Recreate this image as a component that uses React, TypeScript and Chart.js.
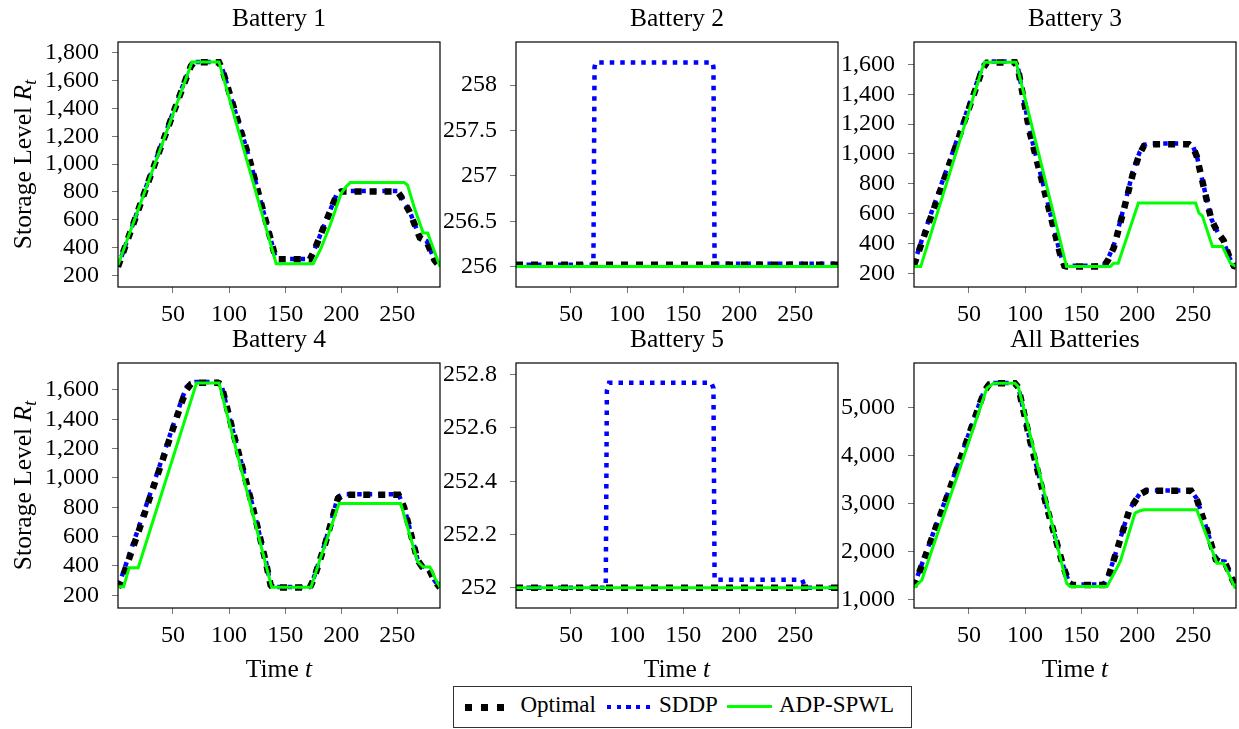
import React, { useEffect, useRef } from 'react';
import { Chart, registerables } from 'chart.js';

Chart.register(...registerables);

type Pt = [number, number];

// Time axis (5-minute steps over one day)
const timeMin = 1;
const timeMax = 288;
const timeTicks = [50, 100, 150, 200, 250];

// Battery 1 storage trajectories
const battery1Optimal: Pt[] = [
  [1, 262], [20, 690], [40, 1140], [60, 1580], [66, 1705], [69, 1732], [91, 1732], [94, 1680],
  [118, 1040], [141, 340], [144, 315], [172, 315], [176, 380], [186, 580], [196, 780], [200, 803],
  [250, 803], [253, 770], [261, 655], [270, 470], [276, 445], [283, 310], [288, 262],
];
const battery1Sddp: Pt[] = [
  [1, 262], [20, 700], [40, 1150], [60, 1590], [66, 1712], [69, 1735], [91, 1735], [94, 1685],
  [118, 1045], [141, 340], [144, 318], [172, 318], [176, 385], [186, 585], [196, 785], [200, 806],
  [250, 806], [253, 772], [261, 660], [270, 472], [276, 448], [283, 312], [288, 262],
];
const battery1Adp: Pt[] = [
  [1, 274], [67, 1735], [91, 1735], [142, 284], [175, 284], [182, 395], [190, 560], [200, 790],
  [204, 835], [208, 867], [256, 867], [259, 850], [265, 690], [273, 505], [277, 505], [288, 262],
];
const battery1Ticks = [200, 400, 600, 800, 1000, 1200, 1400, 1600, 1800];

// Battery 2 storage trajectories
const battery2Optimal: Pt[] = [[1, 256.02], [288, 256.02]];
const battery2Sddp: Pt[] = [
  [1, 256.02], [70, 256.02], [71, 258.2], [72, 258.25], [176, 258.25], [177, 258.2], [178, 256.03], [288, 256.03],
];
const battery2Adp: Pt[] = [[1, 256.0], [288, 256.0]];
const battery2Ticks = [256, 256.5, 257, 257.5, 258];

// Battery 3 storage trajectories
const battery3Optimal: Pt[] = [
  [1, 255], [10, 450], [20, 660], [40, 1090], [58, 1480], [62, 1570], [66, 1612], [91, 1615],
  [94, 1560], [104, 1150], [119, 700], [131, 335], [135, 250], [137, 245], [170, 245], [174, 290],
  [179, 370], [188, 626], [196, 865], [202, 1000], [206, 1055], [210, 1066], [246, 1066], [250, 1040],
  [253, 985], [259, 785], [266, 560], [272, 470], [277, 420], [282, 310], [286, 250], [288, 245],
];
const battery3Sddp: Pt[] = [
  [1, 262], [10, 470], [20, 680], [40, 1110], [58, 1500], [62, 1590], [66, 1620], [91, 1620],
  [94, 1565], [104, 1160], [119, 710], [131, 340], [135, 255], [137, 250], [170, 250], [174, 300],
  [179, 385], [188, 640], [196, 880], [202, 1010], [206, 1060], [210, 1070], [246, 1070], [250, 1045],
  [253, 990], [259, 790], [266, 565], [272, 470], [277, 415], [282, 305], [286, 250], [288, 245],
];
const battery3Adp: Pt[] = [
  [1, 245], [7, 245], [61, 1555], [64, 1615], [92, 1615], [137, 245], [176, 245], [179, 267],
  [183, 267], [201, 671], [252, 671], [255, 603], [258, 585], [267, 379], [276, 379], [283, 267], [288, 245],
];
const battery3Ticks = [200, 400, 600, 800, 1000, 1200, 1400, 1600];

// Battery 4 storage trajectories
const battery4Optimal: Pt[] = [
  [1, 252], [4, 300], [10, 430], [20, 650], [30, 880], [40, 1105], [50, 1335], [58, 1520],
  [62, 1600], [66, 1640], [70, 1650], [90, 1650], [93, 1640], [103, 1330], [121, 805], [133, 418],
  [137, 270], [139, 252], [172, 252], [176, 320], [186, 560], [197, 860], [201, 885], [251, 885],
  [256, 800], [262, 620], [268, 440], [272, 395], [278, 380], [283, 300], [288, 252],
];
const battery4Sddp: Pt[] = [
  [1, 262], [4, 320], [10, 455], [20, 675], [30, 900], [40, 1125], [50, 1355], [58, 1540],
  [62, 1620], [66, 1650], [70, 1655], [90, 1655], [93, 1640], [103, 1335], [121, 810], [133, 425],
  [137, 275], [139, 256], [172, 256], [176, 330], [186, 570], [197, 870], [201, 888], [251, 888],
  [256, 805], [262, 625], [268, 445], [272, 398], [278, 382], [283, 302], [288, 252],
];
const battery4Adp: Pt[] = [
  [1, 258], [6, 258], [11, 388], [19, 388], [71, 1648], [91, 1648], [138, 255], [173, 255],
  [180, 420], [198, 825], [253, 825], [260, 640], [268, 430], [273, 392], [279, 392], [284, 310], [288, 255],
];
const battery4Ticks = [200, 400, 600, 800, 1000, 1200, 1400, 1600];

// Battery 5 storage trajectories
const battery5Optimal: Pt[] = [[1, 252.0], [288, 252.0]];
const battery5Sddp: Pt[] = [
  [1, 252.0], [81, 252.0], [82, 252.74], [84, 252.77], [175, 252.77], [177, 252.75], [178, 252.03],
  [256, 252.03], [259, 252.0], [288, 252.0],
];
const battery5Adp: Pt[] = [[1, 252.0], [288, 252.0]];
const battery5Ticks = [252, 252.2, 252.4, 252.6, 252.8];

// Sum over all batteries
const allOptimal: Pt[] = [
  [1, 1265], [10, 1830], [30, 3110], [50, 4430], [60, 5100], [64, 5350], [68, 5480], [72, 5505],
  [91, 5505], [94, 5420], [104, 4350], [119, 2950], [134, 1690], [139, 1350], [142, 1300], [170, 1300],
  [174, 1450], [181, 1960], [193, 2865], [202, 3180], [208, 3260], [248, 3260], [253, 3090], [262, 2450],
  [270, 1830], [273, 1790], [278, 1780], [283, 1500], [288, 1265],
];
const allSddp: Pt[] = [
  [1, 1280], [10, 1860], [30, 3140], [50, 4460], [60, 5130], [64, 5370], [68, 5495], [72, 5510],
  [91, 5510], [94, 5425], [104, 4360], [119, 2960], [134, 1700], [139, 1360], [142, 1310], [170, 1310],
  [174, 1465], [181, 1980], [193, 2880], [202, 3195], [208, 3270], [248, 3270], [253, 3100], [262, 2460],
  [270, 1835], [273, 1795], [278, 1785], [283, 1505], [288, 1265],
];
const allAdp: Pt[] = [
  [1, 1245], [8, 1400], [18, 2100], [40, 3600], [66, 5405], [72, 5505], [91, 5505], [94, 5430],
  [137, 1336], [140, 1265], [173, 1265], [181, 1613], [185, 1800], [198, 2796], [202, 2840], [206, 2865],
  [253, 2865], [262, 2308], [271, 1753], [277, 1753], [287, 1245], [288, 1245],
];
const allTicks = [1000, 2000, 3000, 4000, 5000];

const SERIF = '"Liberation Serif", "Times New Roman", serif';

type Run = { text: string; font: string; dy?: number };

function drawRuns(ctx: CanvasRenderingContext2D, runs: Run[], x: number, y: number, angle: number) {
  ctx.save();
  ctx.translate(x, y);
  ctx.rotate(angle);
  ctx.textAlign = 'left';
  ctx.textBaseline = 'alphabetic';
  let total = 0;
  for (const r of runs) {
    ctx.font = r.font;
    total += ctx.measureText(r.text).width;
  }
  let cx = -total / 2;
  for (const r of runs) {
    ctx.font = r.font;
    ctx.fillText(r.text, cx, r.dy || 0);
    cx += ctx.measureText(r.text).width;
  }
  ctx.restore();
}

// Draws the axis box, the panel caption and the axis captions
const panelFrame = {
  id: 'panelFrame',
  afterDatasetsDraw(chart: any, _args: any, opts: any) {
    const { ctx, chartArea: a } = chart;
    ctx.save();
    ctx.strokeStyle = '#000';
    ctx.lineWidth = 1.2;
    ctx.strokeRect(a.left, a.top, a.right - a.left, a.bottom - a.top);
    ctx.fillStyle = '#000';
    ctx.font = `25.5px ${SERIF}`;
    ctx.textAlign = 'center';
    ctx.textBaseline = 'alphabetic';
    const mid = (a.left + a.right) / 2;
    ctx.fillText(opts.title, mid, a.top - 16.5);
    if (opts.xLabel) {
      drawRuns(ctx, [
        { text: 'Time ', font: `25.5px ${SERIF}` },
        { text: 't', font: `italic 25.5px ${SERIF}` },
      ], mid, a.bottom + 68.5, 0);
    }
    if (opts.yLabel) {
      drawRuns(ctx, [
        { text: 'Storage Level ', font: `25.5px ${SERIF}` },
        { text: 'R', font: `italic 25.5px ${SERIF}` },
        { text: 't', font: `italic 18px ${SERIF}`, dy: 5 },
      ], a.left - 87, (a.top + a.bottom) / 2, -Math.PI / 2);
    }
    ctx.restore();
  },
};

type PanelSpec = {
  title: string;
  left: number;
  top: number;
  optimal: Pt[];
  sddp: Pt[];
  adp: Pt[];
  yMin: number;
  yMax: number;
  yTicks: number[];
  xLabel: boolean;
  yLabel: boolean;
};

const PLOT_W = 322;
const PLOT_H = 245;
const AXIS_W = 110;
const AXIS_H = 75;
const TOP_PAD = 42;
const RIGHT_PAD = 3;
const CANVAS_W = AXIS_W + PLOT_W + RIGHT_PAD;
const CANVAS_H = TOP_PAD + PLOT_H + AXIS_H;

const toXY = (pts: Pt[]) => pts.map(([x, y]) => ({ x, y }));

const tickFont = { family: SERIF, size: 24 };

function Panel({ spec }: { spec: PanelSpec }) {
  const ref = useRef<HTMLCanvasElement | null>(null);
  useEffect(() => {
    if (!ref.current) return;
    const chart = new Chart(ref.current, {
      type: 'line',
      data: {
        datasets: [
          {
            label: 'Optimal',
            data: toXY(spec.optimal),
            borderColor: '#000000',
            borderWidth: 6.5,
            borderDash: [7, 8],
            borderCapStyle: 'butt',
            pointRadius: 0,
            tension: 0,
            order: 2,
            clip: 0,
          },
          {
            label: 'SDDP',
            data: toXY(spec.sddp),
            borderColor: '#0000ff',
            borderWidth: 4.5,
            borderDash: [4.5, 6],
            borderCapStyle: 'butt',
            pointRadius: 0,
            tension: 0,
            order: 3,
            clip: 0,
          },
          {
            label: 'ADP-SPWL',
            data: toXY(spec.adp),
            borderColor: '#00ff00',
            borderWidth: 3,
            pointRadius: 0,
            tension: 0,
            order: 1,
            clip: 0,
          },
        ],
      } as any,
      options: {
        animation: false,
        responsive: false,
        events: [],
        layout: { padding: { left: 0, top: TOP_PAD, right: RIGHT_PAD, bottom: 0 } },
        plugins: {
          legend: { display: false },
          tooltip: { enabled: false },
          panelFrame: { title: spec.title, xLabel: spec.xLabel, yLabel: spec.yLabel },
        } as any,
        scales: {
          x: {
            type: 'linear',
            min: timeMin,
            max: timeMax,
            afterBuildTicks: (s: any) => {
              s.ticks = timeTicks.map((v) => ({ value: v }));
            },
            afterFit: (s: any) => {
              s.height = AXIS_H;
            },
            grid: { display: true, drawOnChartArea: false, drawTicks: true, tickLength: 6, color: '#777', lineWidth: 1 },
            border: { display: false },
            ticks: {
              font: tickFont,
              color: '#000',
              padding: 7,
              maxRotation: 0,
              autoSkip: false,
              callback: (v: any) => String(v),
            },
          },
          y: {
            type: 'linear',
            min: spec.yMin,
            max: spec.yMax,
            afterBuildTicks: (s: any) => {
              s.ticks = spec.yTicks.map((v) => ({ value: v }));
            },
            afterFit: (s: any) => {
              s.width = AXIS_W;
            },
            grid: { display: true, drawOnChartArea: false, drawTicks: true, tickLength: 6, color: '#777', lineWidth: 1 },
            border: { display: false },
            ticks: {
              font: tickFont,
              color: '#000',
              padding: 13,
              autoSkip: false,
              callback: (v: any) => Number(v).toLocaleString('en-US'),
            },
          },
        },
      } as any,
      plugins: [panelFrame],
    });
    return () => chart.destroy();
  }, [spec]);
  return (
    <canvas
      ref={ref}
      width={CANVAS_W}
      height={CANVAS_H}
      style={{ position: 'absolute', left: spec.left - AXIS_W, top: spec.top - TOP_PAD, width: CANVAS_W, height: CANVAS_H }}
    />
  );
}

const colLeft = [118, 516, 914];
const rowTop = [42, 363];

const panels: PanelSpec[] = [
  { title: 'Battery 1', left: colLeft[0], top: rowTop[0], optimal: battery1Optimal, sddp: battery1Sddp, adp: battery1Adp, yMin: 116, yMax: 1878, yTicks: battery1Ticks, xLabel: false, yLabel: true },
  { title: 'Battery 2', left: colLeft[1], top: rowTop[0], optimal: battery2Optimal, sddp: battery2Sddp, adp: battery2Adp, yMin: 255.775, yMax: 258.475, yTicks: battery2Ticks, xLabel: false, yLabel: false },
  { title: 'Battery 3', left: colLeft[2], top: rowTop[0], optimal: battery3Optimal, sddp: battery3Sddp, adp: battery3Adp, yMin: 108, yMax: 1751, yTicks: battery3Ticks, xLabel: false, yLabel: false },
  { title: 'Battery 4', left: colLeft[0], top: rowTop[1], optimal: battery4Optimal, sddp: battery4Sddp, adp: battery4Adp, yMin: 113, yMax: 1784, yTicks: battery4Ticks, xLabel: true, yLabel: true },
  { title: 'Battery 5', left: colLeft[1], top: rowTop[1], optimal: battery5Optimal, sddp: battery5Sddp, adp: battery5Adp, yMin: 251.924, yMax: 252.844, yTicks: battery5Ticks, xLabel: true, yLabel: false },
  { title: 'All Batteries', left: colLeft[2], top: rowTop[1], optimal: allOptimal, sddp: allSddp, adp: allAdp, yMin: 818, yMax: 5926, yTicks: allTicks, xLabel: true, yLabel: false },
];

const legendText: React.CSSProperties = {
  position: 'absolute',
  top: 693.4,
  fontFamily: SERIF,
  fontSize: 23,
  lineHeight: '23px',
  color: '#000',
  whiteSpace: 'nowrap',
};

function Legend() {
  const square = (left: number): React.CSSProperties => ({
    position: 'absolute', left, top: 703.5, width: 7, height: 7, background: '#000',
  });
  return (
    <>
      <div style={{ position: 'absolute', left: 453, top: 686, width: 459, height: 42, border: '1px solid #333', boxSizing: 'border-box', background: '#fff' }} />
      <div style={square(465)} />
      <div style={square(481)} />
      <div style={square(497)} />
      <span style={{ ...legendText, left: 520.5 }}>Optimal</span>
      <div style={{ position: 'absolute', left: 606.5, top: 705, width: 44, height: 4.3, background: 'repeating-linear-gradient(90deg, #0000ff 0px, #0000ff 4.3px, transparent 4.3px, transparent 9.7px)' }} />
      <span style={{ ...legendText, left: 659 }}>SDDP</span>
      <div style={{ position: 'absolute', left: 727, top: 704.5, width: 45, height: 3, background: '#00ff00' }} />
      <span style={{ ...legendText, left: 779 }}>ADP-SPWL</span>
    </>
  );
}

export default function App() {
  return (
    <div style={{ position: 'absolute', left: 0, top: 0, width: 1239, height: 729, background: '#fff', overflow: 'hidden' }}>
      {panels.map((p) => (
        <Panel key={p.title} spec={p} />
      ))}
      <Legend />
    </div>
  );
}
